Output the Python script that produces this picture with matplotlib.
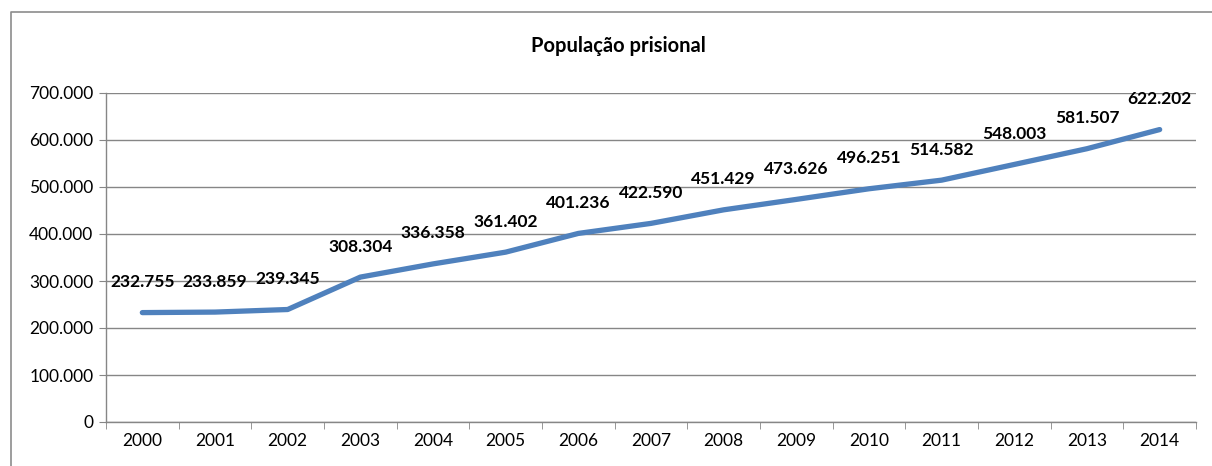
import matplotlib
matplotlib.use("Agg")
import matplotlib.pyplot as plt
import matplotlib.ticker as mticker
from matplotlib.lines import Line2D

plt.rcParams.update({
    "font.family": ["Lato", "DejaVu Sans"],
    "font.size": 12.5,
})

anos = ["2000", "2001", "2002", "2003", "2004", "2005", "2006", "2007",
        "2008", "2009", "2010", "2011", "2012", "2013", "2014"]
populacao = [232755, 233859, 239345, 308304, 336358, 361402, 401236, 422590,
             451429, 473626, 496251, 514582, 548003, 581507, 622202]
y_ticks = [0, 100000, 200000, 300000, 400000, 500000, 600000, 700000]


def fmt_pt(v):
    return f"{int(v):,}".replace(",", ".")


W, H = 1212, 466
fig = plt.figure(figsize=(W / 100, H / 100), dpi=100)
ax = fig.add_axes([106 / W, 1 - 422 / H, (1196 - 106) / W, (422 - 93) / H])

# moldura do gráfico (estilo Excel): só as bordas esquerda e superior aparecem
x0, y0 = 10.5 / W, 1 - 11.5 / H
fig.lines.append(Line2D([x0, x0, 1.0], [0.0, y0, y0], transform=fig.transFigure,
                        color="#8c8c8c", linewidth=1.2))

x = list(range(len(anos)))
ax.plot(x, populacao, color="#4f81bd", linewidth=3.8, solid_capstyle="round",
        solid_joinstyle="round", zorder=3)

for xi, v in zip(x, populacao):
    ax.annotate(fmt_pt(v), (xi, v), xytext=(0, 22), textcoords="offset points",
                ha="center", va="center", fontweight="bold", fontsize=12.5,
                color="black", zorder=4)

ax.set_xlim(-0.5, len(anos) - 0.5)
ax.set_ylim(0, 700000)
ax.set_yticks(y_ticks)
ax.yaxis.set_major_formatter(mticker.FuncFormatter(lambda v, _: fmt_pt(v)))
ax.set_xticks(x)
ax.set_xticklabels(anos)
ax.set_xticks([i - 0.5 for i in range(len(anos) + 1)], minor=True)
ax.tick_params(axis="x", which="major", length=0, pad=8)
ax.tick_params(axis="x", which="minor", length=5, color="#868686")
ax.tick_params(axis="y", length=5, color="#868686", pad=4)

ax.grid(axis="y", color="#868686", linewidth=1.0)
ax.set_axisbelow(True)
for s in ("top", "right"):
    ax.spines[s].set_visible(False)
for s in ("left", "bottom"):
    ax.spines[s].set_color("#868686")
    ax.spines[s].set_linewidth(1.0)

fig.text(618 / W, 1 - 46 / H, "População prisional", ha="center", va="center",
         fontweight="bold", fontsize=14.5)

fig.savefig("out.png", dpi=100)
